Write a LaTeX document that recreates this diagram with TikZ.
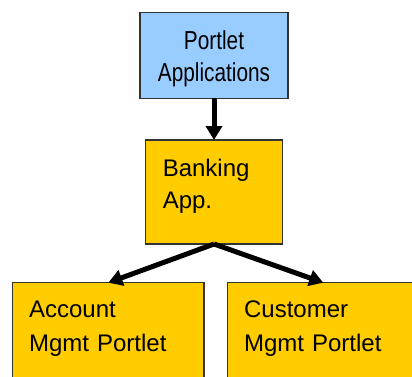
\documentclass[tikz,border=0pt]{standalone}
\usepackage{fontspec}
\setmainfont{Liberation Sans}
\newfontfamily\narrowfont[FakeStretch=0.8]{Liberation Sans}
\usetikzlibrary{positioning,arrows.meta}

\definecolor{portletBlue}{HTML}{99CCFF}
\definecolor{appGold}{HTML}{FFCC00}

\begin{document}
\begin{tikzpicture}[
  x=1pt, y=1pt,
  box/.style={rectangle, draw=black!80, line width=1.3pt, outer sep=0pt, inner ysep=0pt},
  link/.style={line width=5pt, -{Triangle[length=14pt,width=16pt]}}
]
	\tikzstyle{portletBox} = [box, fill=portletBlue, inner xsep=0pt, text width=148pt, align=center, text height=36.6pt, text depth=49pt, font=\narrowfont\fontsize{26}{32.4}\selectfont]
	\tikzstyle{appBox} = [box, fill=appGold, inner xsep=17.3pt, text width=102.4pt, align=left, text height=36.7pt, text depth=67.3pt, font=\fontsize{24}{31.7}\selectfont]
	\tikzstyle{moduleBox} = [box, fill=appGold, inner xsep=16.6pt, text width=158.4pt, align=left, text height=34.6pt, text depth=100pt, font=\fontsize{24}{34.4}\selectfont]

	\useasboundingbox (0,0) rectangle (412,376);
	\clip (0,0) rectangle (412,376);

	\node (portlet) [portletBox] at (214,320.5) {Portlet\\Applications};
	\node (banking) [appBox, below=41.7pt of portlet] {Banking\\App.};

	\node (account) [moduleBox, below=38.7pt of banking, xshift=-105.7pt] {Account\\Mgmt Portlet};
	\node (customer) [moduleBox, below=38.7pt of banking, xshift=109.3pt] {Customer\\Mgmt Portlet};

	\draw[link] (portlet) -- (banking);
	\draw[link] (banking.south) -- (account.north);
	\draw[link] (banking.south) -- (customer.north);
\end{tikzpicture}
\end{document}
